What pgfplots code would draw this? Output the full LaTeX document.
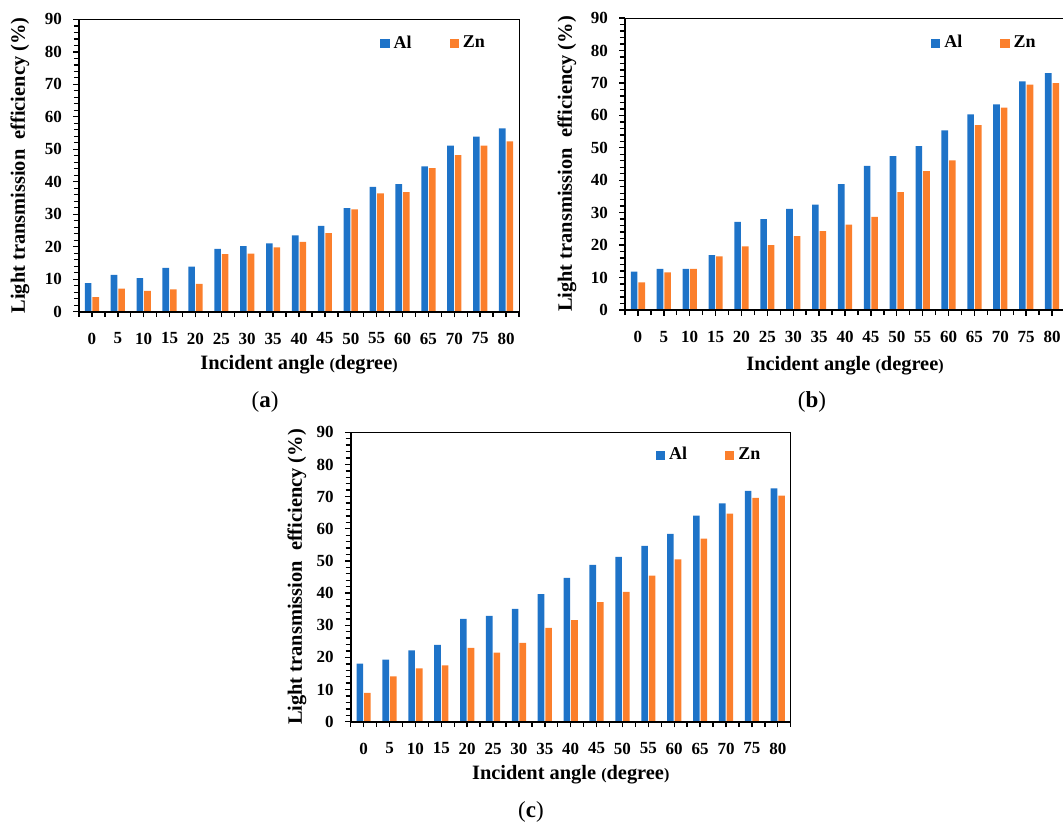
\documentclass[border=0pt]{standalone}
\usepackage{fontspec}
\setmainfont{Liberation Serif}
\usepackage{pgfplots}
\usepackage{pgfplotstable}
\pgfplotsset{compat=1.18}
\definecolor{alblue}{HTML}{1E73C8}
\definecolor{znorange}{HTML}{FB7F2C}

\pgfplotstableread{
x al zn
0 8.8 4.5
1 11.3 7.1
2 10.3 6.4
3 13.5 6.9
4 13.9 8.6
5 19.3 17.7
6 20.2 17.9
7 21.0 19.8
8 23.5 21.5
9 26.4 24.2
10 31.9 31.5
11 38.4 36.4
12 39.3 36.8
13 44.7 44.2
14 51.1 48.2
15 53.9 51.1
16 56.4 52.4
}\tablea

\pgfplotstableread{
x al zn
0 11.8 8.5
1 12.7 11.6
2 12.7 12.7
3 16.9 16.5
4 27.2 19.6
5 28.0 20.0
6 31.2 22.8
7 32.5 24.3
8 38.8 26.3
9 44.4 28.7
10 47.4 36.3
11 50.5 42.8
12 55.4 46.1
13 60.3 57.0
14 63.4 62.4
15 70.5 69.5
16 73.0 69.9
}\tableb

\pgfplotstableread{
x al zn
0 18.1 9.0
1 19.3 14.1
2 22.2 16.6
3 23.9 17.5
4 32.0 23.0
5 32.9 21.5
6 35.1 24.5
7 39.7 29.2
8 44.7 31.6
9 48.8 37.2
10 51.3 40.4
11 54.7 45.4
12 58.4 50.5
13 64.1 56.9
14 67.9 64.7
15 71.8 69.6
16 72.6 70.3
}\tablec

\pgfplotsset{
  panel/.style={
    scale only axis, width=220pt,
    ybar=0.5pt, bar width=3.3pt,
    xmin=-0.5, xmax=16.5, ymin=0, ymax=90,
    xtick={0,...,16},
    xticklabels={0,5,10,15,20,25,30,35,40,45,50,55,60,65,70,75,80},
    minor xtick={-0.5,0.5,...,16.5},
    ytick={0,10,...,90}, minor y tick num=4,
    tick align=outside, tick pos=left,
    major tick length=2.8pt, minor tick length=2.6pt,
    every tick/.style={black, line width=0.7pt},
    axis line style={line width=0.5pt, black},
    /pgf/number format/assume math mode=true,
    ticklabel style={font=\bfseries\fontsize{8.5}{9.5}\selectfont},
    xticklabel style={yshift=-4.2pt},
    yticklabel style={xshift=-2.2pt},
    label style={font=\bfseries\fontsize{10.2}{12}\selectfont},
    xlabel={Incident angle {\fontsize{8}{9}\selectfont(}degree{\fontsize{8}{9}\selectfont)}},
    ylabel={Light transmission\ \ efficiency (\%)},
    legend columns=2,
    legend style={draw=none, fill=none, inner sep=0pt, anchor=west,
      font=\bfseries\fontsize{9}{10}\selectfont,
      /tikz/every even column/.append style={column sep=17pt}},
    legend image code/.code={\fill[##1] (0pt,-2.3pt) rectangle (4.6pt,2.3pt);},
    after end axis/.code={\draw[line width=1pt, black] (rel axis cs:0,1) -- (rel axis cs:0,0) -- (rel axis cs:1,0);},
  },
  alstyle/.style={fill=alblue, draw=none},
  znstyle/.style={fill=znorange, draw=none},
}

\begin{document}
\begin{tikzpicture}
\useasboundingbox (0,0) rectangle (531.5pt,412.5pt);

% (a)
\begin{axis}[panel, height=146.2pt, at={(39.5pt,256.65pt)}, anchor=south west,
  xlabel style={at={(axis description cs:0.5,-0.18)}, anchor=center},
  ylabel style={at={(axis description cs:-0.134,0.5)}, anchor=center},
  legend style={at={(axis description cs:0.684,0.917)}}]
\addplot[alstyle] table[x=x,y=al] {\tablea};
\addplot[znstyle] table[x=x,y=zn] {\tablea};
\legend{Al,Zn}
\end{axis}
\node[font=\fontsize{11.5}{13}\selectfont] at (132.5pt,211.5pt) {(\textbf{a})};

% (b)
\begin{axis}[panel, height=146pt, at={(312.5pt,257.5pt)}, anchor=south west,
  xlabel style={at={(axis description cs:0.5,-0.19)}, anchor=center},
  ylabel style={at={(axis description cs:-0.132,0.5)}, anchor=center},
  legend style={at={(axis description cs:0.695,0.914)}}]
\addplot[alstyle] table[x=x,y=al] {\tableb};
\addplot[znstyle] table[x=x,y=zn] {\tableb};
\legend{Al,Zn}
\end{axis}
\node[font=\fontsize{11.5}{13}\selectfont] at (406pt,211.5pt) {(\textbf{b})};

% (c)
\begin{axis}[panel, height=144.7pt, at={(175.35pt,51.65pt)}, anchor=south west,
  xlabel style={at={(axis description cs:0.5,-0.183)}, anchor=center},
  ylabel style={at={(axis description cs:-0.122,0.5)}, anchor=center},
  legend style={at={(axis description cs:0.693,0.921)}}]
\addplot[alstyle] table[x=x,y=al] {\tablec};
\addplot[znstyle] table[x=x,y=zn] {\tablec};
\legend{Al,Zn}
\end{axis}
\node[font=\fontsize{11.5}{13}\selectfont] at (265.5pt,6.5pt) {(\textbf{c})};
\end{tikzpicture}
\end{document}
